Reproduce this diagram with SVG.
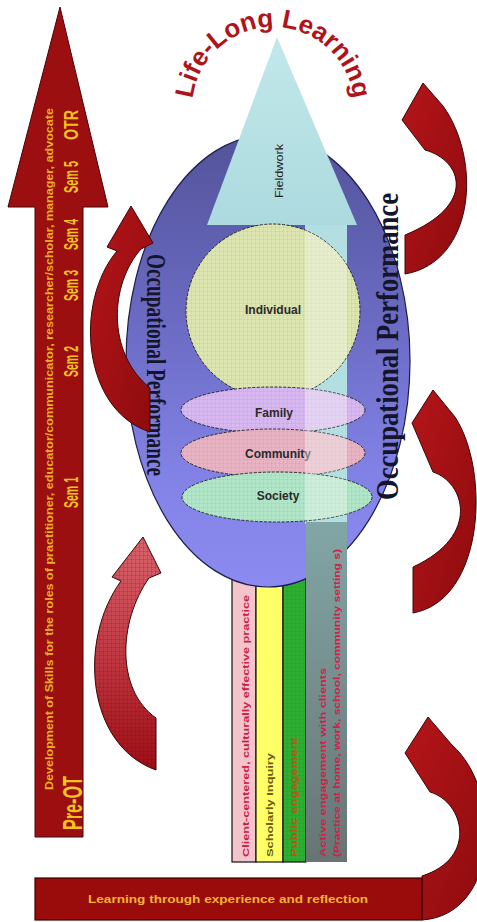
<svg xmlns="http://www.w3.org/2000/svg" width="477" height="922" viewBox="0 0 477 922">
  <style>
    .rarrow { stroke: #3b0606; stroke-width: 1; }
    .bar { stroke: #111; stroke-width: 1.2; }
    .sans { font-family: "Liberation Sans", Arial, sans-serif; font-weight: bold; }
    .occ { font-family: "Liberation Serif", "Times New Roman", serif; font-weight: bold; fill: #14142a; }
    .gold { fill: #f5c21e; }
    .node-lbl { font-size: 12px; fill: #2a2a2a; text-anchor: middle; }
    .ring { stroke: #2a2a2a; stroke-width: 1; stroke-dasharray: 3 1.5; }
  </style>
  <defs>
    <linearGradient id="ovalFill" x1="0" y1="0" x2="0" y2="1">
      <stop offset="0" stop-color="#53539a"/>
      <stop offset="0.4" stop-color="#6a6ac2"/>
      <stop offset="0.75" stop-color="#8282e6"/>
      <stop offset="1" stop-color="#8a8af0"/>
    </linearGradient>
    <linearGradient id="redFill" x1="0" y1="0" x2="1" y2="1">
      <stop offset="0" stop-color="#b41519"/>
      <stop offset="1" stop-color="#8e0b0e"/>
    </linearGradient>
    <linearGradient id="pinkFill" x1="0" y1="0" x2="0" y2="1">
      <stop offset="0" stop-color="#d9646c"/>
      <stop offset="0.5" stop-color="#c03a44"/>
      <stop offset="1" stop-color="#9c0f15"/>
    </linearGradient>
    <linearGradient id="grayFill" x1="0" y1="0" x2="0" y2="1">
      <stop offset="0" stop-color="#82a6a6"/>
      <stop offset="1" stop-color="#687474"/>
    </linearGradient>
    <linearGradient id="cyanFill" x1="0" y1="0" x2="0" y2="1">
      <stop offset="0" stop-color="#c2e8ea"/>
      <stop offset="1" stop-color="#acdade"/>
    </linearGradient>
    <pattern id="grid" width="4" height="4" patternUnits="userSpaceOnUse">
      <path d="M4 0V4M0 4H4" stroke="#000" stroke-opacity="0.08" fill="none"/>
    </pattern>
    <pattern id="gridRed" width="4" height="4" patternUnits="userSpaceOnUse">
      <path d="M4 0V4M0 4H4" stroke="#600" stroke-opacity="0.3" fill="none"/>
    </pattern>
    <clipPath id="ringsClip">
      <circle cx="273" cy="311" r="87"/>
      <ellipse cx="273" cy="410" rx="92" ry="23"/>
      <ellipse cx="273" cy="453" rx="92" ry="24"/>
      <ellipse cx="277" cy="497" rx="95" ry="25"/>
    </clipPath>
    <path id="titleArc" d="M192,108 A81,81 0 0 1 354,108" fill="none"/>
  </defs>

  <!-- progression arrow on the left -->
  <g id="skills-arrow">
    <path d="M60,7 L108,207 L83,207 L83,837 L35,837 L35,207 L8,207 Z" fill="#9b0f10" stroke="#4a0505" stroke-width="1"/>
    <text class="sans" font-size="11" fill="#e8b020" transform="translate(53,790) rotate(-90)" textLength="682" lengthAdjust="spacingAndGlyphs">Development of Skills for the roles of practitioner, educator/communicator, researcher/scholar, manager, advocate</text>
    <text class="sans gold" font-size="27" transform="translate(82,830) rotate(-90)" textLength="54" lengthAdjust="spacingAndGlyphs">Pre-OT</text>
    <text class="sans gold" font-size="20" transform="translate(78,508) rotate(-90)" textLength="31" lengthAdjust="spacingAndGlyphs">Sem 1</text>
    <text class="sans gold" font-size="20" transform="translate(78,377) rotate(-90)" textLength="31" lengthAdjust="spacingAndGlyphs">Sem 2</text>
    <text class="sans gold" font-size="20" transform="translate(78,301) rotate(-90)" textLength="31" lengthAdjust="spacingAndGlyphs">Sem 3</text>
    <text class="sans gold" font-size="20" transform="translate(78,250) rotate(-90)" textLength="31" lengthAdjust="spacingAndGlyphs">Sem 4</text>
    <text class="sans gold" font-size="20" transform="translate(78,193) rotate(-90)" textLength="32" lengthAdjust="spacingAndGlyphs">Sem 5</text>
    <text class="sans gold" font-size="20" transform="translate(78,140) rotate(-90)" textLength="30" lengthAdjust="spacingAndGlyphs">OTR</text>
  </g>

  <!-- bars beneath the oval -->
  <g id="practice-bar">
    <rect class="bar" x="232" y="560" width="24" height="302" fill="#f4c4cc"/>
    <text class="sans" font-size="9" fill="#c8203e" transform="translate(249,857) rotate(-90)" textLength="262" lengthAdjust="spacingAndGlyphs">Client-centered, culturally effective practice</text>
  </g>
  <g id="inquiry-bar">
    <rect class="bar" x="256" y="560" width="27" height="302" fill="#ffff66"/>
    <text class="sans" font-size="9" fill="#6a5a10" transform="translate(273,857) rotate(-90)" textLength="104" lengthAdjust="spacingAndGlyphs">Scholarly Inquiry</text>
  </g>
  <g id="engagement-bar">
    <rect class="bar" x="283" y="560" width="23" height="302" fill="#2fae34"/>
    <rect x="283" y="560" width="23" height="302" fill="url(#grid)"/>
    <text class="sans" font-size="9" fill="#b05a10" transform="translate(297,857) rotate(-90)" textLength="120" lengthAdjust="spacingAndGlyphs">Public engagement</text>
  </g>

  <!-- occupational performance oval -->
  <g id="oval">
    <ellipse cx="268" cy="361" rx="142" ry="226" fill="url(#ovalFill)" stroke="#1c1c50" stroke-width="1.2"/>
  </g>

  <!-- fieldwork arrow -->
  <g id="fieldwork">
    <rect x="305" y="224" width="42" height="300" fill="#b4dfe2"/>
    <path d="M277,37 L357,225 L207,225 Z" fill="url(#cyanFill)"/>
    <text font-family="Liberation Sans, Arial, sans-serif" font-size="11" fill="#222" transform="translate(283,198) rotate(-90)" textLength="54" lengthAdjust="spacingAndGlyphs">Fieldwork</text>
  </g>

  <!-- client levels -->
  <g id="individual">
    <circle class="ring" cx="273" cy="311" r="87" fill="#dde5b0"/>
    <circle cx="273" cy="311" r="87" fill="url(#grid)"/>
    <text class="sans node-lbl" x="273" y="314">Individual</text>
  </g>
  <g id="family">
    <ellipse class="ring" cx="273" cy="410" rx="92" ry="23" fill="#d8b8f0"/>
    <ellipse cx="273" cy="410" rx="92" ry="23" fill="url(#grid)"/>
    <text class="sans node-lbl" x="274" y="417">Family</text>
  </g>
  <g id="community">
    <ellipse class="ring" cx="273" cy="453" rx="92" ry="24" fill="#e8b4c4"/>
    <ellipse cx="273" cy="453" rx="92" ry="24" fill="url(#grid)"/>
    <text class="sans node-lbl" x="278" y="458">Community</text>
  </g>
  <g id="society">
    <ellipse class="ring" cx="277" cy="497" rx="95" ry="25" fill="#b2e6c8"/>
    <ellipse cx="277" cy="497" rx="95" ry="25" fill="url(#grid)"/>
    <text class="sans node-lbl" x="278" y="500">Society</text>
  </g>
  <!-- fieldwork shaft showing through the levels -->
  <rect x="305" y="224" width="42" height="300" fill="#f4fbf4" opacity="0.4" clip-path="url(#ringsClip)"/>

  <g id="clients-bar">
    <rect x="306" y="522" width="41" height="340" fill="url(#grayFill)"/>
    <text class="sans" font-size="9" fill="#d0204a" transform="translate(326,857) rotate(-90)" textLength="189" lengthAdjust="spacingAndGlyphs">Active engagement with clients</text>
    <text class="sans" font-size="9" fill="#d0204a" transform="translate(340,857) rotate(-90)" textLength="308" lengthAdjust="spacingAndGlyphs">(Practice at home, work, school, community setting s)</text>
  </g>

  <!-- side labels of the oval -->
  <text class="occ" font-size="27" transform="translate(147,254) rotate(90)" textLength="222" lengthAdjust="spacingAndGlyphs">Occupational Performance</text>
  <text class="occ" font-size="32" transform="translate(398,500) rotate(-90)" textLength="307" lengthAdjust="spacingAndGlyphs">Occupational Performance</text>

  <!-- cycle arrows -->
  <g id="cycles">
    <path class="rarrow" fill="url(#redFill)" d="M131,206 L153,243 L141,249 C110,284 106,352 150,388 L150,432 C82,410 74,302 117,251 L107,247 Z"/>
    <path class="rarrow" fill="url(#pinkFill)" d="M143,537 L161,573 L149,578 C118,622 116,690 156,718 L156,770 C86,745 78,640 121,581 L112,577 Z"/>
    <path fill="url(#gridRed)" d="M143,537 L161,573 L149,578 C118,622 116,690 156,718 L156,770 C86,745 78,640 121,581 L112,577 Z"/>
    <path class="rarrow" fill="url(#redFill)" d="M423,83 L402,120 L425,150 C462,160 478,205 405,235 L405,274 C475,262 482,160 443,106 Z"/>
    <path class="rarrow" fill="url(#redFill)" d="M433,390 L412,423 L433,472 C464,482 482,535 413,567 L413,613 C485,600 490,470 455,417 Z"/>
    <path class="rarrow" fill="url(#redFill)" d="M428,717 L405,753 L430,792 C464,802 478,858 422,876 L422,920 C500,915 503,790 452,745 Z"/>
  </g>

  <!-- experience bar along the bottom -->
  <g id="experience-bar">
    <rect x="35" y="878" width="387" height="42" fill="#9a0c0c" stroke="#3a0000" stroke-width="1.2"/>
    <text class="sans" font-size="11" fill="#f2b232" x="228" y="903" text-anchor="middle" textLength="280" lengthAdjust="spacingAndGlyphs">Learning through experience and reflection</text>
  </g>

  <!-- title along the arc -->
  <g id="title">
    <text class="sans" font-size="26" fill="#b0141b"><textPath href="#titleArc" startOffset="50%" text-anchor="middle">Life-Long Learning</textPath></text>
  </g>
</svg>
